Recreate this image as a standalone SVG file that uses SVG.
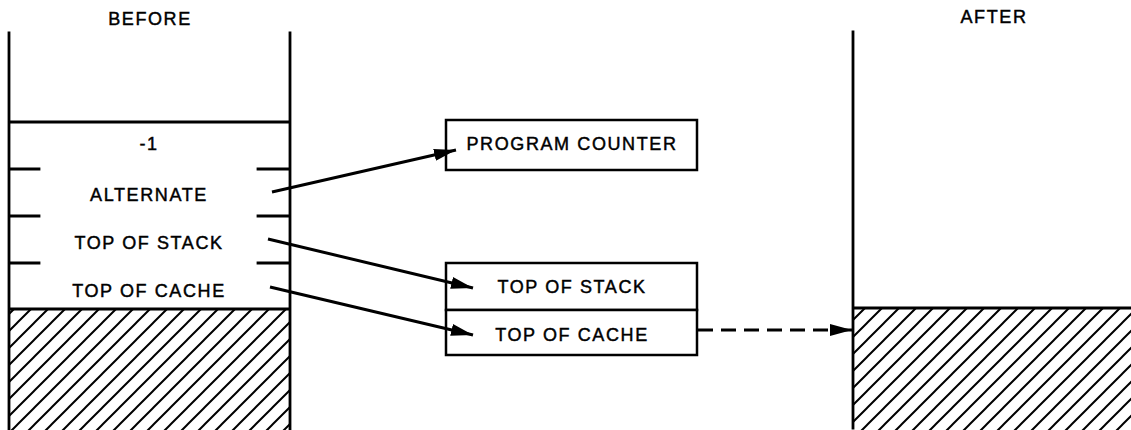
<svg xmlns="http://www.w3.org/2000/svg" width="1131" height="430" viewBox="0 0 1131 430">
<defs>
<style>
.ln{stroke:#000;stroke-width:2.8;fill:none;stroke-linecap:square}
.bx{stroke:#000;stroke-width:2.5;fill:#fff}
.t{font-family:"Liberation Sans",Arial,sans-serif;font-size:18px;letter-spacing:1.6px;fill:#000;stroke:#000;stroke-width:0.45;text-anchor:middle}
.ar{stroke:#000;stroke-width:3;fill:none}
</style>
<pattern id="hatch" patternUnits="userSpaceOnUse" width="17" height="17">
<path d="M-2,2 L2,-2 M0,17 L17,0 M15,19 L19,15" stroke="#000" stroke-width="2"/>
</pattern>
<marker id="ah" viewBox="0 0 22 12" refX="22" refY="6" markerWidth="22" markerHeight="12" markerUnits="userSpaceOnUse" orient="auto">
<path d="M0,0 L22,6 L0,12 Z" fill="#000"/>
</marker>
</defs>
<text class="t" x="150" y="25">BEFORE</text>
<text class="t" x="994" y="23">AFTER</text>
<g id="before-stack">
<rect x="9" y="309" width="281" height="121" fill="url(#hatch)"/>
<path class="ln" d="M9,33 V430 M290,33 V430 M9,122 H290 M9,309 H290 M9,169 H39 M258,169 H290 M9,216 H39 M258,216 H290 M9,263 H39 M258,263 H290"/>
<text class="t" x="149" y="150">-1</text>
<text class="t" x="149" y="201">ALTERNATE</text>
<text class="t" x="149" y="249">TOP OF STACK</text>
<text class="t" x="149" y="297">TOP OF CACHE</text>
</g>
<g id="program-counter">
<rect class="bx" x="446" y="120" width="251" height="50"/>
<text class="t" x="572" y="150">PROGRAM COUNTER</text>
</g>
<g id="top-of-stack">
<rect class="bx" x="446" y="263" width="251" height="47"/>
<text class="t" x="572" y="293">TOP OF STACK</text>
</g>
<g id="top-of-cache">
<rect class="bx" x="446" y="310" width="251" height="45"/>
<text class="t" x="572" y="341">TOP OF CACHE</text>
</g>
<g id="after-stack">
<rect x="853" y="308" width="278" height="122" fill="url(#hatch)"/>
<path class="ln" d="M853,32 V428 M853,308 H1131"/>
</g>
<g id="connectors">
<path class="ar" d="M272,192 L456,150" marker-end="url(#ah)"/>
<path class="ar" d="M268,239 L473,288" marker-end="url(#ah)"/>
<path class="ar" d="M270,287 L473,335" marker-end="url(#ah)"/>
<path class="ar" d="M698,330 L832,330" stroke-dasharray="15 8"/>
<path class="ar" d="M832,330 L852,330" marker-end="url(#ah)"/>
</g>
</svg>
